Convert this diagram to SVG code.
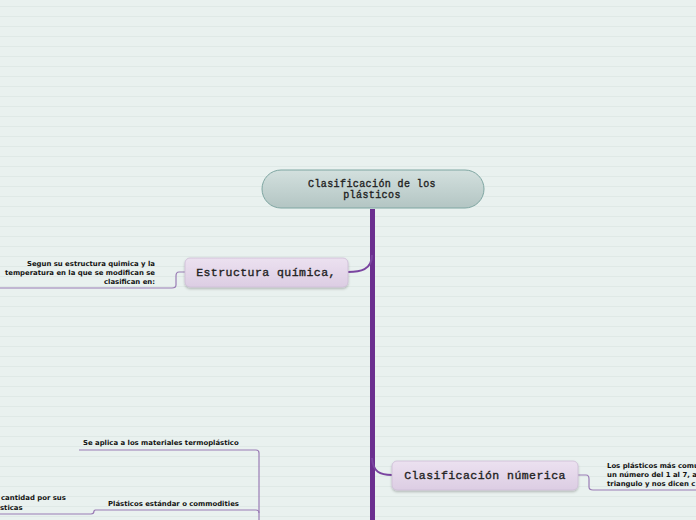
<svg xmlns="http://www.w3.org/2000/svg" width="696" height="520" viewBox="0 0 696 520">
<defs>
<pattern id="lines" x="0" y="0" width="696" height="10" patternUnits="userSpaceOnUse">
<rect width="696" height="10" fill="#e9f1ef"/>
<rect y="6" width="696" height="1" fill="#dfe9e6"/>
</pattern>
<linearGradient id="gc" x1="0" y1="0" x2="0" y2="1">
<stop offset="0" stop-color="#d3e0de"/>
<stop offset="1" stop-color="#b3c5c3"/>
</linearGradient>
<linearGradient id="gs" x1="0" y1="0" x2="0" y2="1">
<stop offset="0" stop-color="#ece1f0"/>
<stop offset="1" stop-color="#dccde3"/>
</linearGradient>
<filter id="sh" x="-10%" y="-20%" width="120%" height="150%">
<feDropShadow dx="0" dy="1.5" stdDeviation="1" flood-color="#000" flood-opacity="0.25"/>
</filter>
</defs>
<style>
.title{font-family:"Liberation Mono","Courier New",monospace;fill:#222;stroke:#222;stroke-width:0.35;}
.small{font-family:"DejaVu Sans",Verdana,sans-serif;font-weight:bold;font-size:6.9px;fill:#111;}
.thin{fill:none;stroke:#9a7cb5;stroke-width:1.2;}
.sub{fill:url(#gs);stroke:#cdbcd6;stroke-width:0.8;filter:url(#sh);}
</style>
<rect width="696" height="520" fill="url(#lines)"/>
<g id="connectors">
<rect x="370" y="209" width="5" height="311" fill="#6b2f8f"/>
<path d="M372 255 C372 270 360 272 348 272" fill="none" stroke="#7a45a0" stroke-width="2"/>
<path d="M372 458 C373 472 380 475 392 475" fill="none" stroke="#7a45a0" stroke-width="2"/>
<path class="thin" d="M185 272 L179 272 Q176 272 176 276 L176 285 Q176 288 172 288 L0 288"/>
<path class="thin" d="M578 475 L586 475 Q589 475 589 479 L589 487 Q589 490 593 490 L696 490"/>
<path class="thin" d="M79 450 L256 450 Q259 450 259 453 L259 520"/>
<path class="thin" d="M95 510 L256 510 Q259 510 259 513"/>
<path class="thin" d="M0 514 L91 514 Q94 514 94 511 L95 510"/>
</g>
<g id="n0">
<rect x="262" y="170" width="222" height="38" rx="19" fill="url(#gc)" stroke="#7fa6a2" stroke-width="1"/>
<text class="title" font-size="10" letter-spacing="0.4" text-anchor="middle" x="372" y="187">Clasificación de los</text>
<text class="title" font-size="10" letter-spacing="0.4" text-anchor="middle" x="372" y="198">plásticos</text>
</g>
<g id="n1">
<rect class="sub" x="185" y="258" width="163" height="29" rx="5"/>
<text class="title" font-size="11.5" letter-spacing="0.45" text-anchor="middle" x="266" y="276">Estructura química,</text>
</g>
<g id="n1a">
<text class="small" text-anchor="end" x="155" y="266">Segun su estructura quimica y la</text>
<text class="small" text-anchor="end" x="155" y="275">temperatura en la que se modifican se</text>
<text class="small" text-anchor="end" x="155" y="284">clasifican en:</text>
</g>
<g id="n2">
<rect class="sub" x="392" y="461" width="186" height="29" rx="5"/>
<text class="title" font-size="11.5" letter-spacing="0.45" text-anchor="middle" x="485" y="479">Clasificación númerica</text>
</g>
<g id="n2a">
<text class="small" x="607" y="468">Los plásticos más comu</text>
<text class="small" x="607" y="477">un número del 1 al 7, a</text>
<text class="small" x="607" y="486">triangulo y nos dicen c</text>
</g>
<g id="n3">
<text class="small" x="83" y="445">Se aplica a los materiales termoplástico</text>
</g>
<g id="n4">
<text class="small" x="108" y="506">Plásticos estándar o commodities</text>
</g>
<g id="n5">
<text class="small" x="1" y="500">cantidad por sus</text>
<text class="small" x="0" y="510">sticas</text>
</g>
</svg>
